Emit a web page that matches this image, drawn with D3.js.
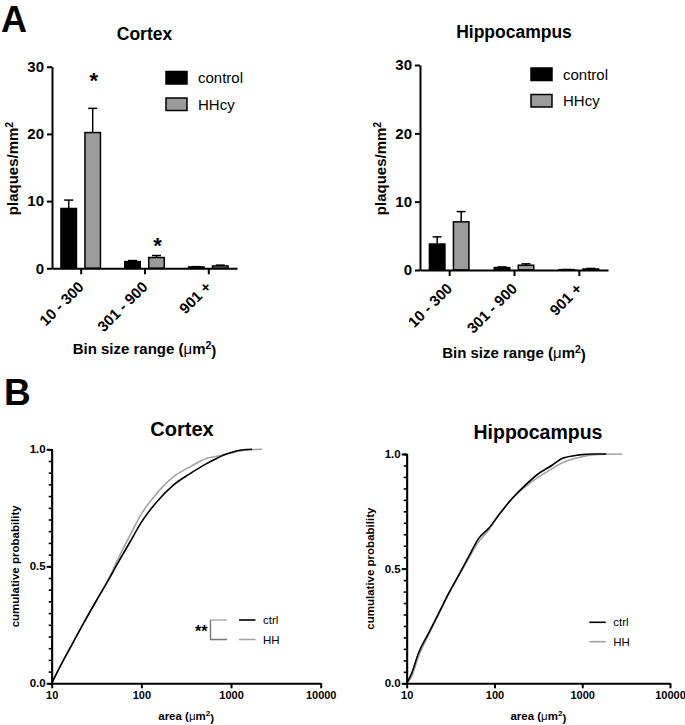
<!DOCTYPE html>
<html>
<head>
<meta charset="utf-8">
<script src="https://cdn.jsdelivr.net/npm/d3@7"></script>
<style>
  body { margin: 0; background: #fff; }
  svg { display: block; font-family: "Liberation Sans", Arial, Helvetica, sans-serif; }
</style>
</head>
<body>
<svg id="fig" width="685" height="725"></svg>
<script>
// ── panel A: plaque density per size bin (mean and SEM, plaques/mm²) ──
const BINS = ["10 - 300", "301 - 900", "901 +"];
const GROUPS = ["control", "HHcy"];
const CTX_CONTROL = [8.9, 1.0, 0.2];
const CTX_CONTROL_SEM = [1.25, 0.15, 0.05];
const CTX_HHCY = [20.2, 1.6, 0.35];
const CTX_HHCY_SEM = [3.6, 0.3, 0.12];
const HIP_CONTROL = [3.8, 0.35, 0.05];
const HIP_CONTROL_SEM = [1.05, 0.1, 0.02];
const HIP_HHCY = [7.05, 0.7, 0.15];
const HIP_HHCY_SEM = [1.5, 0.2, 0.08];
const CTX_STARS = [{ bin: "10 - 300", value: 28.4 }, { bin: "301 - 900", value: 3.9 }];
const BAR_TICKS = [0, 10, 20, 30];

// ── panel B: cumulative distribution of plaque area (µm²) ──
const CTX_CTRL_AREA = [10, 12.4, 16.0, 22.6, 31.8, 43.0, 53.2, 75, 101, 149, 229, 352, 540, 700, 830, 1000, 1170, 1720];
const CTX_CTRL_P    = [0, .071, .150, .256, .356, .442, .506, .605, .691, .776, .848, .897, .940, .962, .976, .986, .994, 1.0];
const CTX_HH_AREA = [10, 12.4, 16.0, 22.6, 31.8, 43.0, 53.2, 75, 101, 149, 229, 352, 540, 700, 1000, 1500, 2220];
const CTX_HH_P    = [0, .071, .150, .256, .356, .445, .520, .634, .726, .812, .883, .926, .962, .970, .984, .997, 1.0];
const HIP_CTRL_AREA = [10, 11.4, 13.6, 17.7, 23.1, 30.0, 39.1, 50.8, 66.1, 86, 112, 160, 226, 322, 458, 595, 925, 1312, 1880];
const HIP_CTRL_P    = [0, .044, .131, .218, .305, .392, .472, .552, .632, .676, .734, .807, .865, .916, .952, .981, .996, 1.0, 1.0];
const HIP_HH_AREA = [10, 11.4, 13.6, 17.7, 23.1, 30.0, 39.1, 50.8, 66.1, 86, 112, 160, 226, 322, 458, 595, 925, 1312, 2000, 2860];
const HIP_HH_P    = [0, .030, .116, .210, .300, .388, .468, .545, .618, .669, .734, .807, .858, .901, .937, .962, .985, .996, .999, 1.0];
const AREA_TICKS = [10, 100, 1000, 10000];

const FILL = { control: "#000", HHcy: "#9b9b9b" };
const LINE = { ctrl: "#000", HH: "#a3a3a3" };

const svg = d3.select("#fig");

// panel letters
svg.append("text").attr("x", 1).attr("y", 32).attr("font-size", 36).attr("font-weight", "bold").text("A");
svg.append("text").attr("x", 4).attr("y", 405).attr("font-size", 37).attr("font-weight", "bold").text("B");

// label with µm² : "<pre>(µm<sup>2</sup>)"
function umLabel(sel, pre) {
  sel.append("tspan").text(pre + "(");
  sel.append("tspan").attr("font-weight", "normal").text("\u03bc");
  sel.append("tspan").text("m");
  sel.append("tspan").attr("font-size", "70%").attr("dy", "-0.45em").text("2");
  sel.append("tspan").attr("dy", "0.45em").text(")");
}

function styleAxis(g, w) {
  g.select(".domain").attr("stroke-width", w);
  g.selectAll(".tick line").attr("stroke-width", w);
}

// ── bar chart panel ──
function barPanel(o) {
  const x = d3.scalePoint().domain(BINS).range([o.x0, o.x1]).padding(0.45);
  const xg = d3.scaleBand().domain(GROUPS).range([-19.75, 19.75]).paddingInner(0.354);
  const y = d3.scaleLinear().domain([0, 30]).range([o.yBase, o.yTop]);
  const g = svg.append("g");

  g.append("text").attr("x", (o.x0 + o.x1) / 2).attr("y", o.titleY)
    .attr("text-anchor", "middle").attr("font-size", 17.5).attr("font-weight", "bold").text(o.title);

  const series = [
    { key: "control", vals: o.control, sem: o.controlSem },
    { key: "HHcy", vals: o.hhcy, sem: o.hhcySem }
  ];
  series.forEach(s => {
    const sg = g.append("g");
    const rows = BINS.map((b, i) => ({ bin: b, v: s.vals[i], e: s.sem[i] }));
    const cx = d => x(d.bin) + xg(s.key) + xg.bandwidth() / 2;
    // error bars (upper only)
    sg.selectAll("line.err").data(rows).join("line")
      .attr("x1", cx).attr("x2", cx)
      .attr("y1", d => y(d.v)).attr("y2", d => y(d.v + d.e))
      .attr("stroke", "#000").attr("stroke-width", 1.5);
    sg.selectAll("line.cap").data(rows).join("line")
      .attr("x1", d => cx(d) - 4.5).attr("x2", d => cx(d) + 4.5)
      .attr("y1", d => y(d.v + d.e)).attr("y2", d => y(d.v + d.e))
      .attr("stroke", "#000").attr("stroke-width", 1.5);
    sg.selectAll("rect").data(rows).join("rect")
      .attr("x", d => x(d.bin) + xg(s.key)).attr("width", xg.bandwidth())
      .attr("y", d => y(d.v)).attr("height", d => y(0) - y(d.v))
      .attr("fill", FILL[s.key]).attr("stroke", "#000").attr("stroke-width", 1.5);
  });

  // significance marks
  g.selectAll("text.star").data(o.stars || []).join("text")
    .attr("x", d => x(d.bin) + xg("HHcy") + xg.bandwidth() / 2 + 1)
    .attr("y", d => y(d.value) + 11)
    .attr("text-anchor", "middle").attr("font-size", 22).attr("font-weight", "bold").text("*");

  const ya = g.append("g").attr("transform", `translate(${o.x0},0)`)
    .call(d3.axisLeft(y).tickValues(BAR_TICKS).tickSize(5).tickSizeOuter(0).tickPadding(3));
  styleAxis(ya, 2);
  ya.selectAll("text").attr("font-size", 15).attr("font-weight", "bold").attr("fill", "#000")
    .attr("font-family", null);

  const xa = g.append("g").attr("transform", `translate(0,${y(0)})`)
    .call(d3.axisBottom(x).tickSize(6).tickSizeOuter(0));
  styleAxis(xa, 2);
  xa.selectAll("text")
    .attr("x", null).attr("y", null).attr("dy", "0.71em")
    .attr("transform", "translate(-4,12) rotate(-45)")
    .attr("text-anchor", "end").attr("font-size", 15).attr("font-weight", "bold").attr("fill", "#000")
    .attr("font-family", null);

  const yl = g.append("text")
    .attr("transform", `translate(${o.x0 - 34},${(o.yBase + o.yTop) / 2 + 1}) rotate(-90)`)
    .attr("text-anchor", "middle").attr("font-size", 15).attr("font-weight", "bold");
  yl.append("tspan").text("plaques/mm");
  yl.append("tspan").attr("font-size", "70%").attr("dy", "-0.5em").text("2");

  const xl = g.append("text").attr("x", (o.x0 + o.x1) / 2).attr("y", o.xLabelY)
    .attr("text-anchor", "middle").attr("font-size", 15).attr("font-weight", "bold");
  umLabel(xl, "Bin size range ");

  // legend
  const lg = g.append("g").selectAll("g").data(GROUPS).join("g")
    .attr("transform", (d, i) => `translate(${o.legendX},${o.legendY + i * 26.5})`);
  lg.append("rect").attr("width", 21).attr("height", 12.5)
    .attr("fill", d => FILL[d]).attr("stroke", "#000").attr("stroke-width", 1.5);
  lg.append("text").attr("x", 32).attr("y", 6.5).attr("dy", "0.36em")
    .attr("font-size", 15).text(d => d);
}

barPanel({
  title: "Cortex", titleY: 40, x0: 52, x1: 237, yBase: 268.3, yTop: 66.7, xLabelY: 354,
  control: CTX_CONTROL, controlSem: CTX_CONTROL_SEM, hhcy: CTX_HHCY, hhcySem: CTX_HHCY_SEM,
  stars: CTX_STARS, legendX: 166, legendY: 71.5
});
barPanel({
  title: "Hippocampus", titleY: 38, x0: 420, x1: 608, yBase: 270, yTop: 65, xLabelY: 358,
  control: HIP_CONTROL, controlSem: HIP_CONTROL_SEM, hhcy: HIP_HHCY, hhcySem: HIP_HHCY_SEM,
  stars: [], legendX: 531, legendY: 68
});

// ── cumulative probability panel ──
function cdfPanel(o) {
  const x = d3.scaleLog().domain([10, 10000]).range([o.x0, o.x1]);
  const y = d3.scaleLinear().domain([0, 1]).range([o.yBase, o.yTop]);
  const g = svg.append("g");

  g.append("text").attr("x", o.titleX).attr("y", o.titleY)
    .attr("text-anchor", "middle").attr("font-size", o.titleSize).attr("font-weight", "bold").text(o.title);

  const line = d3.line().curve(d3.curveMonotoneX).x(d => x(d[0])).y(d => y(d[1]));
  const curves = [
    { key: "HH", pts: d3.zip(o.hhArea, o.hhP) },
    { key: "ctrl", pts: d3.zip(o.ctrlArea, o.ctrlP) }
  ];
  g.selectAll("path.cdf").data(curves).join("path")
    .attr("d", d => line(d.pts)).attr("fill", "none")
    .attr("stroke", d => LINE[d.key]).attr("stroke-width", 1.6);

  // minor ticks every 0.05, then major ones with labels
  const ym = g.append("g").attr("transform", `translate(${o.x0},0)`)
    .call(d3.axisLeft(y).tickValues(d3.range(0, 1.001, 0.05)).tickSize(3).tickFormat(""));
  styleAxis(ym, 1.6);
  const ya = g.append("g").attr("transform", `translate(${o.x0},0)`)
    .call(d3.axisLeft(y).tickValues([0, 0.5, 1]).tickSize(5).tickSizeOuter(0).tickFormat(d3.format(".1f")).tickPadding(1));
  styleAxis(ya, 2);
  ya.selectAll("text").attr("font-size", 11.5).attr("font-weight", "bold").attr("fill", "#000").attr("font-family", null);

  const xa = g.append("g").attr("transform", `translate(0,${o.yBase})`)
    .call(d3.axisBottom(x).tickValues(AREA_TICKS).tickFormat(d3.format("d")).tickSize(5).tickSizeOuter(0));
  styleAxis(xa, 2);
  xa.selectAll("text").attr("font-size", 11).attr("font-weight", "bold").attr("fill", "#000").attr("font-family", null);

  g.append("text")
    .attr("transform", `translate(${o.x0 - 33},${(o.yBase + o.yTop) / 2}) rotate(-90)`)
    .attr("text-anchor", "middle").attr("font-size", 11.5).attr("font-weight", "bold")
    .text("cumulative probability");

  const xl = g.append("text").attr("x", (o.x0 + o.x1) / 2).attr("y", 720)
    .attr("text-anchor", "middle").attr("font-size", 11.5).attr("font-weight", "bold");
  umLabel(xl, "area ");

  // legend
  const lg = g.append("g").selectAll("g").data(["ctrl", "HH"]).join("g")
    .attr("transform", (d, i) => `translate(${o.legendX},${o.legendY + i * o.legendGap})`);
  lg.append("line").attr("x1", 0).attr("x2", 16.5)
    .attr("stroke", d => LINE[d]).attr("stroke-width", 1.6);
  lg.append("text").attr("x", 24).attr("dy", "0.36em").attr("font-size", 11.5).text(d => d);

  if (o.bracket) {
    const bx = o.legendX - 28.5, by0 = o.legendY, by1 = o.legendY + o.legendGap;
    g.append("path").attr("d", `M${bx + 16.5},${by0}H${bx}`)
      .attr("fill", "none").attr("stroke", "#aaa").attr("stroke-width", 1.4);
    g.append("path").attr("d", `M${bx},${by0}V${by1}H${bx + 16.5}`)
      .attr("fill", "none").attr("stroke", "#777").attr("stroke-width", 1.4);
    g.append("text").attr("x", bx - 3).attr("y", (by0 + by1) / 2 + 7.5)
      .attr("text-anchor", "end").attr("font-size", 16).attr("font-weight", "bold").text("**");
  }
}

cdfPanel({
  title: "Cortex", titleX: 182, titleY: 436, titleSize: 20,
  x0: 51.7, x1: 320.7, yBase: 683.3, yTop: 449.3,
  ctrlArea: CTX_CTRL_AREA, ctrlP: CTX_CTRL_P, hhArea: CTX_HH_AREA, hhP: CTX_HH_P,
  legendX: 239, legendY: 620, legendGap: 19.5, bracket: true
});
cdfPanel({
  title: "Hippocampus", titleX: 538, titleY: 439, titleSize: 19.5,
  x0: 406.7, x1: 670, yBase: 683.3, yTop: 454,
  ctrlArea: HIP_CTRL_AREA, ctrlP: HIP_CTRL_P, hhArea: HIP_HH_AREA, hhP: HIP_HH_P,
  legendX: 589.3, legendY: 622.3, legendGap: 19.4, bracket: false
});
</script>
</body>
</html>
